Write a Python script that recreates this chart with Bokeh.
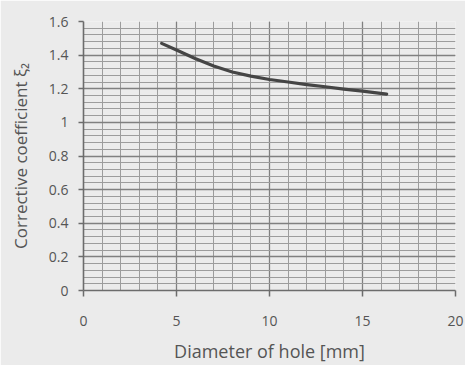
from bokeh.plotting import figure
from bokeh.models import Range1d, FixedTicker, CustomJSTickFormatter
from bokeh.embed import file_html
from bokeh.resources import INLINE

# Data
diameter_mm = [4.2, 5, 6, 7, 8, 9, 10, 11, 12, 13, 14, 15, 16.3]
coefficient = [1.47, 1.43, 1.38, 1.335, 1.30, 1.275, 1.255, 1.24, 1.225, 1.212, 1.198, 1.186, 1.168]

x_ticks = [0, 5, 10, 15, 20]
x_minor = list(range(0, 21))
y_ticks = [0, 0.2, 0.4, 0.6, 0.8, 1.0, 1.2, 1.4, 1.6]
y_minor = [round(i * 0.04, 2) for i in range(41)]

p = figure(width=465, height=365, output_backend="svg", toolbar_location=None,
           x_range=Range1d(0, 20), y_range=Range1d(0, 1.6))
p.min_border_left = 83
p.min_border_right = 10
p.min_border_top = 21
p.min_border_bottom = 75

p.background_fill_color = "#ebebeb"
p.border_fill_color = "#ebebeb"
p.outline_line_color = None

p.xaxis.ticker = FixedTicker(ticks=x_ticks, minor_ticks=x_minor)
p.yaxis.ticker = FixedTicker(ticks=y_ticks, minor_ticks=y_minor)
p.yaxis.formatter = CustomJSTickFormatter(code="return String(Math.round(tick*10)/10);")

for g in (p.xgrid, p.ygrid):
    g.grid_line_color = "#808080"
    g.grid_line_width = 1.3
    g.minor_grid_line_color = "#9c9c9c"
    g.minor_grid_line_width = 1

font = "Open Sans"
text_color = "#555555"
for ax in (p.xaxis, p.yaxis):
    ax.axis_line_color = "#6c6c6c"
    ax.axis_line_width = 1.6
    ax.major_tick_line_color = "#6c6c6c"
    ax.major_tick_line_width = 1.5
    ax.major_tick_in = 0
    ax.minor_tick_in = 0
    ax.minor_tick_out = 0
    ax.major_label_text_font = font
    ax.major_label_text_font_size = "14px"
    ax.major_label_text_color = text_color
    ax.axis_label_text_font = font
    ax.axis_label_text_font_style = "normal"
    ax.axis_label_text_color = text_color

p.xaxis.major_tick_out = 6
p.xaxis.major_label_standoff = 19
p.xaxis.axis_label = "Diameter of hole [mm]"
p.xaxis.axis_label_text_font_size = "18px"
p.xaxis.axis_label_standoff = 10

p.yaxis.major_tick_out = 5
p.yaxis.major_label_standoff = 10
p.yaxis.axis_label = "Corrective coefficient ξ₂"
p.yaxis.axis_label_text_font_size = "17px"
p.yaxis.axis_label_standoff = 14

p.line(diameter_mm, coefficient, line_color="#454545", line_width=3.2, line_join="round", line_cap="round")

open("out.html", "w").write(file_html(p, INLINE))
